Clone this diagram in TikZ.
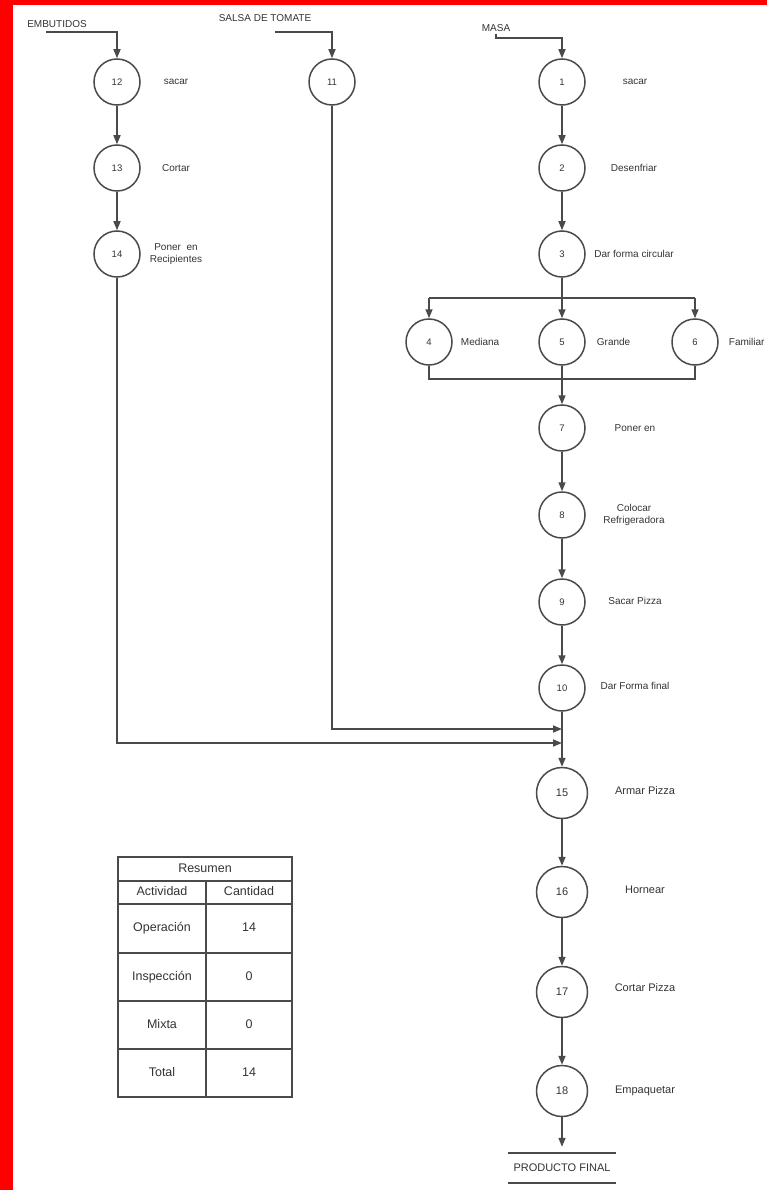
\documentclass[tikz,border=0pt]{standalone}
\usepackage{fontspec}
\setmainfont{Liberation Sans}
\usepackage{xcolor}
\usetikzlibrary{positioning,arrows.meta}
\definecolor{linegray}{HTML}{4A4A4A}
\definecolor{textgray}{HTML}{333333}

\begin{document}
\begin{tikzpicture}[x=1pt, y=-1pt,
    op/.style={circle, draw=linegray, line width=1.5pt, minimum size=46pt, inner sep=0pt, text=textgray, font=\fontsize{9.5}{10}\selectfont},
    opbig/.style={op, minimum size=51pt, font=\fontsize{11}{12}\selectfont},
    lbl/.style={text=textgray, font=\fontsize{10}{11.5}\selectfont, align=center, inner sep=0pt},
    lblbig/.style={lbl, font=\fontsize{11}{12}\selectfont},
    flow/.style={draw=linegray, line width=1.5pt, -{Triangle[length=9pt,width=7pt]}},
    wire/.style={draw=linegray, line width=1.5pt},
    cell/.style={text=textgray, font=\fontsize{12.5}{14}\selectfont, text height=9pt, text depth=2.5pt}]
                \useasboundingbox (0,0) rectangle (767,1190);
                % Frame
                \fill[red] (0,0) rectangle (13,1190);
                \fill[red] (0,0) rectangle (767,5);

                % Inputs
                \node[lbl] (embutidos) at (57,24) {EMBUTIDOS};
                \node[lbl] (salsa) at (265,18) {SALSA DE TOMATE};
                \node[lbl] (masa) at (496,28) {MASA};
                \coordinate (inE) at (46,32);
                \coordinate (inS) at (275,32);
                \coordinate (inM) at (496,34);

                % Nodes
                \node[op] (12) at (117, 82) {12};  % Embutidos
                \node[op] (13) at (117,168) {13};
                \node[op] (14) at (117,254) {14};
                \node[op] (11) at (332, 82) {11};  % Salsa
                \node[op] (1) at (562, 82) {1};    % Masa
                \node[op] (2) at (562,168) {2};
                \node[op] (3) at (562,254) {3};
                \node[op] (4) at (429,342) {4};
                \node[op] (5) at (562,342) {5};
                \node[op] (6) at (695,342) {6};
                \node[op] (7) at (562,428) {7};
                \node[op] (8) at (562,515) {8};
                \node[op] (9) at (562,602) {9};
                \node[op] (10) at (562,688) {10};
                \node[opbig] (15) at (562,793) {15};
                \node[opbig] (16) at (562,892) {16};
                \node[opbig] (17) at (562,992) {17};
                \node[opbig] (18) at (562,1091) {18};

                \node[lbl] at (176,82) {sacar};
                \node[lbl] at (176,168) {Cortar};
                \node[lbl] at (176,254) {Poner\ \ en\\Recipientes};
                \node[lbl] at (635,82) {sacar};
                \node[lbl] at (634,168) {Desenfriar};
                \node[lbl] at (634,254) {Dar forma circular};
                \node[lbl, right=8pt of 4] {Mediana};
                \node[lbl, right=11pt of 5] {Grande};
                \node[lbl, right=10pt of 6] {Familiar};
                \node[lbl] at (635,428) {Poner en};
                \node[lbl] at (634,515) {Colocar\\Refrigeradora};
                \node[lbl] at (635,601) {Sacar Pizza};
                \node[lbl] at (635,686) {Dar Forma final};
                \node[lblbig] at (645,791) {Armar Pizza};
                \node[lblbig] at (645,890) {Hornear};
                \node[lblbig] at (645,988) {Cortar Pizza};
                \node[lblbig] at (645,1091) {Empaquetar};

                % Producto final
                \node[lbl, font=\fontsize{11}{12}\selectfont, minimum width=107pt, minimum height=30pt] (pf) at (562,1168) {PRODUCTO FINAL};
                \draw[wire] (pf.north west) -- (pf.north east);
                \draw[wire] (pf.south west) -- (pf.south east);

                % Branch points
                \coordinate (split) at (562,298);
                \coordinate (s4) at (429,298);
                \coordinate (s6) at (695,298);
                \coordinate (m4) at (429,379);
                \coordinate (m6) at (695,379);
                \coordinate (j11) at (562,729);
                \coordinate (j14) at (562,743);

                % Edges
                \draw[flow] (inE) -| (12);
                \draw[flow] (12) -- (13);
                \draw[flow] (13) -- (14);
                \draw[flow] (inS) -| (11);
                \draw[flow] (inM) |- (562,38) -- (1);
                \draw[flow] (1) -- (2);
                \draw[flow] (2) -- (3);
                \draw[wire] (3) -- (split);
                \draw[wire] (s4) -- (s6);
                \draw[flow] (s4) -- (4);
                \draw[flow] (split) -- (5);
                \draw[flow] (s6) -- (6);
                \draw[wire] (4) |- (m6) -- (6);
                \draw[flow] (5) -- (7);
                \draw[flow] (7) -- (8);
                \draw[flow] (8) -- (9);
                \draw[flow] (9) -- (10);
                \draw[flow] (11) |- (j11);
                \draw[flow] (14) |- (j14);
                \draw[flow] (10) -- (15);
                \draw[flow] (15) -- (16);
                \draw[flow] (16) -- (17);
                \draw[flow] (17) -- (18);
                \draw[flow, shorten >=6pt] (18) -- (pf.north);

                % Resumen
                \draw[draw=linegray, line width=1.6pt] (118,857) rectangle (292,1097);
                \foreach \y in {881,904,953,1001,1049}
                    \draw[draw=linegray, line width=1.6pt] (118,\y) -- (292,\y);
                \draw[draw=linegray, line width=1.6pt] (206,881) -- (206,1097);
                \node[cell] (resumen) at (205,869) {Resumen};
                \node[cell] (actividad) at (162,892.5) {Actividad};
                \node[cell] (cantidad) at (249,892.5) {Cantidad};
                \node[cell] (operacion) at (162,928.5) {Operación};
                \node[cell] (nop) at (249,928.5) {14};
                \node[cell] (inspeccion) at (162,977) {Inspección};
                \node[cell] (nins) at (249,977) {0};
                \node[cell] (mixta) at (162,1025) {Mixta};
                \node[cell] (nmix) at (249,1025) {0};
                \node[cell] (total) at (162,1073) {Total};
                \node[cell] (ntot) at (249,1073) {14};
            \end{tikzpicture}
\end{document}
